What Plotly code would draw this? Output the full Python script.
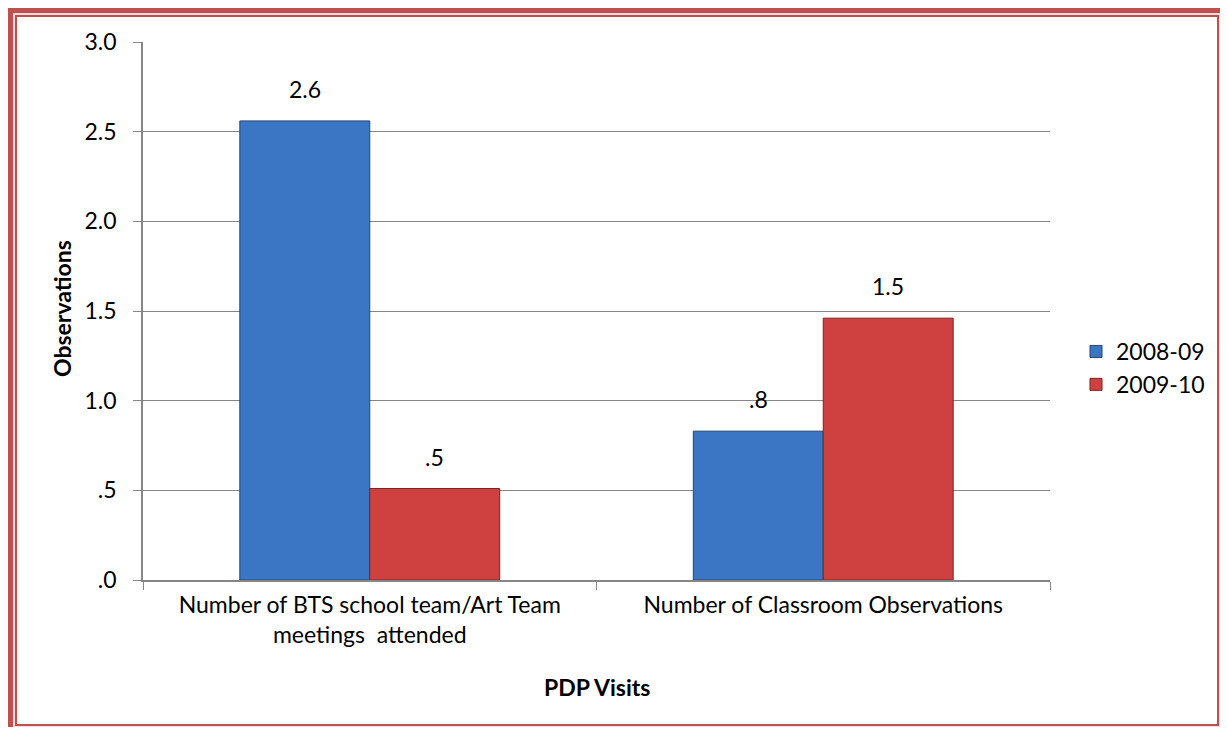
import plotly.graph_objects as go

# data
categories = ["Number of BTS school team/Art Team<br>meetings  attended",
              "Number of Classroom Observations"]
series_names = ["2008-09", "2009-10"]
values_0809 = [2.56, 0.83]
values_0910 = [0.51, 1.46]
y_tickvals = [0, 0.5, 1.0, 1.5, 2.0, 2.5, 3.0]
y_ticktext = [".0", ".5", "1.0", "1.5", "2.0", "2.5", "3.0"]

# the page body adds an 8px margin, so the figure is drawn 8px in
OFF = 8
W, H = 1228 - 2 * OFF, 735 - 2 * OFF
L, R, T, B = 143 - OFF, 1228 - 1050 - OFF, 42 - OFF, 735 - 580 - OFF
PW, PH = W - L - R, H - T - B
FONT = "Lato"
FS = 23
GREY = "#868686"


def px_x(p):
    # page pixel -> paper x
    return (p - OFF - L) / PW


def px_y(p):
    # page pixel -> paper y
    return (H - B - (p - OFF)) / PH


def fmt(v):
    s = f"{v:.1f}"
    return s[1:] if s.startswith("0") else s


fig = go.Figure()
colors = [("#3b76c4", "#24456f"), ("#cf4140", "#7a2423")]
for name, vals, (fill, edge) in zip(series_names, [values_0809, values_0910], colors):
    fig.add_trace(go.Bar(
        x=categories, y=vals, name=name,
        marker=dict(color=fill, line=dict(color=edge, width=1)),
    ))

# data labels above each bar
offsets = [-65, 65]
annotations = []
for vals, dx in zip([values_0809, values_0910], offsets):
    for cat, v in zip(categories, vals):
        annotations.append(dict(
            x=cat, y=v, xref="x", yref="y", text=fmt(v), showarrow=False,
            xshift=dx, yshift=16, yanchor="bottom",
            font=dict(family=FONT, size=FS, color="black"),
        ))

# axis titles
annotations.append(dict(x=0.5, y=px_y(687), xref="paper", yref="paper",
                        text="<b>PDP Visits</b>", showarrow=False,
                        yanchor="middle", font=dict(size=FS)))
annotations.append(dict(x=px_x(62), y=px_y(309), xref="paper", yref="paper",
                        text="<b>Observations</b>", showarrow=False, textangle=-90,
                        xanchor="center", yanchor="middle", font=dict(size=FS)))

# red frame around the chart (kept inside the figure area)
shapes = [
    dict(type="rect", xref="paper", yref="paper", layer="below",
         x0=px_x(4), x1=px_x(1220), y0=px_y(7), y1=px_y(727),
         fillcolor="#c0504d", line=dict(width=0)),
    dict(type="rect", xref="paper", yref="paper", layer="below",
         x0=px_x(13), x1=px_x(1220), y0=px_y(13), y1=px_y(727),
         fillcolor="#f2dcdb", line=dict(width=0)),
    dict(type="rect", xref="paper", yref="paper", layer="below",
         x0=px_x(16), x1=px_x(1218), y0=px_y(16), y1=px_y(725),
         fillcolor="white", line=dict(color="#c0504d", width=2)),
]

fig.update_layout(
    width=W, height=H,
    margin=dict(l=L, r=R, t=T, b=B, autoexpand=False),
    paper_bgcolor="white", plot_bgcolor="rgba(0,0,0,0)",
    font=dict(family=FONT, size=FS, color="black"),
    barmode="group", bargap=0.427, bargroupgap=0,
    shapes=shapes, annotations=annotations,
    legend=dict(x=px_x(1076), y=px_y(368), xanchor="left", yanchor="middle",
                font=dict(size=FS), tracegroupgap=0, itemwidth=30),
    showlegend=True,
)
fig.update_xaxes(
    showline=True, linecolor=GREY, linewidth=1.5,
    ticks="outside", tickson="boundaries", ticklen=8, tickcolor=GREY,
    tickfont=dict(size=FS), ticklabelstandoff=4,
)
fig.update_yaxes(
    range=[0, 3], tickvals=y_tickvals, ticktext=y_ticktext,
    showline=True, linecolor=GREY, linewidth=1.5,
    showgrid=True, gridcolor=GREY, gridwidth=1,
    ticks="outside", ticklen=8, tickcolor=GREY,
    tickfont=dict(size=FS), ticklabelstandoff=12,
)

fig.write_html("out.html")
